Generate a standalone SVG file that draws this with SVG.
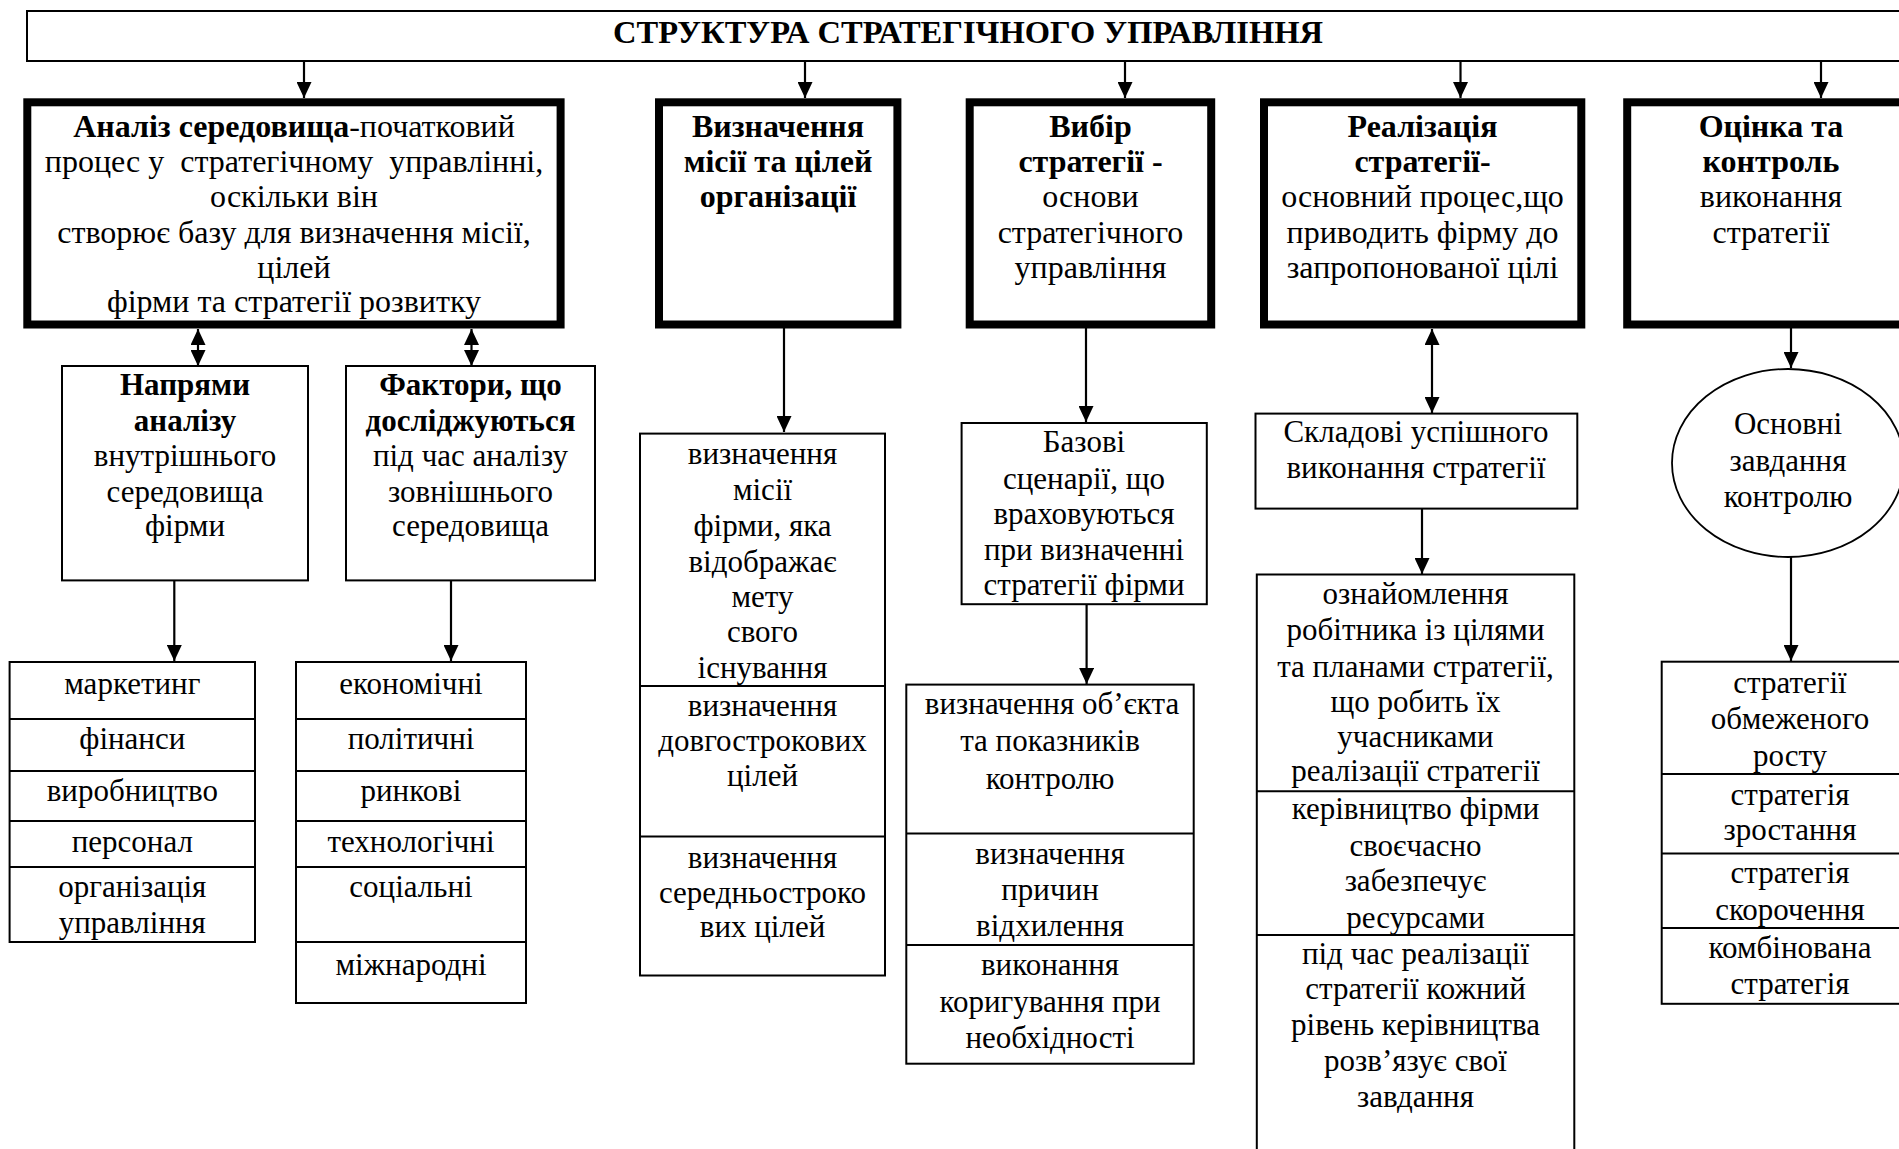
<svg xmlns="http://www.w3.org/2000/svg" width="1899" height="1149" viewBox="0 0 1899 1149">
  <style>
    text { font-family: "Liberation Serif", "Times New Roman", serif; font-size: 31px; fill: #000; text-anchor: middle; }
    .b { font-weight: bold; }
    .top text { font-size: 32px; }
    .thick { fill: #fff; stroke: #000; stroke-width: 8; }
    .thin { fill: #fff; stroke: #000; stroke-width: 2; }
    .sep { stroke: #000; stroke-width: 2; }
    .conn line { stroke: #000; stroke-width: 2.2; }
  </style>
  <defs>
    <marker id="ah" viewBox="0 0 16 15" refX="16" refY="7.5" markerWidth="16" markerHeight="15" markerUnits="userSpaceOnUse" orient="auto-start-reverse">
      <path d="M0,0 L16,7.5 L0,15 z" fill="#000"/>
    </marker>
  </defs>
  <rect width="1899" height="1149" fill="#fff"/>

  <!-- title -->
  <g id="title">
    <rect class="thin" x="27" y="11" width="1900" height="50"/>
    <text class="b" x="968" y="43" style="font-size:32.5px">СТРУКТУРА СТРАТЕГІЧНОГО УПРАВЛІННЯ</text>
  </g>

  <!-- connectors -->
  <g id="connectors" class="conn">
    <line x1="304" y1="61" x2="304" y2="98" marker-end="url(#ah)"/>
    <line x1="805" y1="61" x2="805" y2="98" marker-end="url(#ah)"/>
    <line x1="1125" y1="61" x2="1125" y2="98" marker-end="url(#ah)"/>
    <line x1="1460.5" y1="61" x2="1460.5" y2="98" marker-end="url(#ah)"/>
    <line x1="1821" y1="61" x2="1821" y2="98" marker-end="url(#ah)"/>
    <line x1="198" y1="329" x2="198" y2="366" marker-start="url(#ah)" marker-end="url(#ah)"/>
    <line x1="471.5" y1="329" x2="471.5" y2="366" marker-start="url(#ah)" marker-end="url(#ah)"/>
    <line x1="174.3" y1="580" x2="174.3" y2="661" marker-end="url(#ah)"/>
    <line x1="451" y1="580" x2="451" y2="661" marker-end="url(#ah)"/>
    <line x1="784" y1="328" x2="784" y2="432" marker-end="url(#ah)"/>
    <line x1="1086" y1="328" x2="1086" y2="422" marker-end="url(#ah)"/>
    <line x1="1086.6" y1="604" x2="1086.6" y2="684" marker-end="url(#ah)"/>
    <line x1="1432" y1="329" x2="1432" y2="413" marker-start="url(#ah)" marker-end="url(#ah)"/>
    <line x1="1422" y1="508.6" x2="1422" y2="574" marker-end="url(#ah)"/>
    <line x1="1791" y1="328" x2="1791" y2="368" marker-end="url(#ah)"/>
    <line x1="1791" y1="557" x2="1791" y2="661" marker-end="url(#ah)"/>
  </g>

  <!-- top row: the five stages -->
  <g class="top">
    <g id="analysis">
      <rect class="thick" x="27.3" y="102.3" width="533.3" height="222.2"/>
      <text x="294" y="137"><tspan class="b">Аналіз середовища</tspan>-початковий</text>
      <text x="294" y="172" xml:space="preserve">процес у  стратегічному  управлінні,</text>
      <text x="294" y="207">оскільки він</text>
      <text x="294" y="243">створює базу для визначення місії,</text>
      <text x="294" y="278">цілей</text>
      <text x="294" y="312">фірми та стратегії розвитку</text>
    </g>
    <g id="mission">
      <rect class="thick" x="659" y="102.3" width="238.4" height="222.2"/>
      <text class="b" x="778" y="137">Визначення</text>
      <text class="b" x="778" y="172">місії та цілей</text>
      <text class="b" x="778" y="207">організації</text>
    </g>
    <g id="choice">
      <rect class="thick" x="969.7" y="102.3" width="241.5" height="222.2"/>
      <text class="b" x="1090.5" y="137">Вибір</text>
      <text class="b" x="1090.5" y="172">стратегії -</text>
      <text x="1090.5" y="207">основи</text>
      <text x="1090.5" y="243">стратегічного</text>
      <text x="1090.5" y="278">управління</text>
    </g>
    <g id="implementation">
      <rect class="thick" x="1264" y="102.3" width="317.3" height="222.2"/>
      <text class="b" x="1422.5" y="137">Реалізація</text>
      <text class="b" x="1422.5" y="172">стратегії-</text>
      <text x="1422.5" y="207">основний процес,що</text>
      <text x="1422.5" y="243">приводить фірму до</text>
      <text x="1422.5" y="278">запропонованої цілі</text>
    </g>
    <g id="evaluation">
      <rect class="thick" x="1627.2" y="102.3" width="300" height="222.2"/>
      <text class="b" x="1771" y="137">Оцінка та</text>
      <text class="b" x="1771" y="172">контроль</text>
      <text x="1771" y="207">виконання</text>
      <text x="1771" y="243">стратегії</text>
    </g>
  </g>

  <!-- analysis branch -->
  <g id="internal">
    <rect class="thin" x="62" y="366" width="246" height="214.4"/>
    <text class="b" x="185" y="395">Напрями</text>
    <text class="b" x="185" y="431">аналізу</text>
    <text x="185" y="466">внутрішнього</text>
    <text x="185" y="502">середовища</text>
    <text x="185" y="536">фірми</text>
  </g>
  <g id="external">
    <rect class="thin" x="346" y="366" width="249" height="214.4"/>
    <text class="b" x="470.5" y="395">Фактори, що</text>
    <text class="b" x="470.5" y="431">досліджуються</text>
    <text x="470.5" y="466">під час аналізу</text>
    <text x="470.5" y="502">зовнішнього</text>
    <text x="470.5" y="536">середовища</text>
  </g>
  <g id="internal-list">
    <rect class="thin" x="9.6" y="662" width="245.4" height="280"/>
    <line class="sep" x1="9.6" y1="719" x2="255" y2="719"/>
    <line class="sep" x1="9.6" y1="771" x2="255" y2="771"/>
    <line class="sep" x1="9.6" y1="821" x2="255" y2="821"/>
    <line class="sep" x1="9.6" y1="867" x2="255" y2="867"/>
    <text x="132.3" y="694">маркетинг</text>
    <text x="132.3" y="749">фінанси</text>
    <text x="132.3" y="801">виробництво</text>
    <text x="132.3" y="852">персонал</text>
    <text x="132.3" y="897">організація</text>
    <text x="132.3" y="933">управління</text>
  </g>
  <g id="external-list">
    <rect class="thin" x="296" y="662" width="230" height="341"/>
    <line class="sep" x1="296" y1="719" x2="526" y2="719"/>
    <line class="sep" x1="296" y1="771" x2="526" y2="771"/>
    <line class="sep" x1="296" y1="821" x2="526" y2="821"/>
    <line class="sep" x1="296" y1="867" x2="526" y2="867"/>
    <line class="sep" x1="296" y1="942" x2="526" y2="942"/>
    <text x="411" y="694">економічні</text>
    <text x="411" y="749">політичні</text>
    <text x="411" y="801">ринкові</text>
    <text x="411" y="852">технологічні</text>
    <text x="411" y="897">соціальні</text>
    <text x="411" y="975">міжнародні</text>
  </g>

  <!-- mission branch -->
  <g id="mission-list">
    <rect class="thin" x="640" y="433.6" width="245" height="541.9"/>
    <line class="sep" x1="640" y1="686" x2="885" y2="686"/>
    <line class="sep" x1="640" y1="836.4" x2="885" y2="836.4"/>
    <text x="762.5" y="464">визначення</text>
    <text x="762.5" y="500">місії</text>
    <text x="762.5" y="536">фірми, яка</text>
    <text x="762.5" y="572">відображає</text>
    <text x="762.5" y="607">мету</text>
    <text x="762.5" y="642">свого</text>
    <text x="762.5" y="678">існування</text>
    <text x="762.5" y="716">визначення</text>
    <text x="762.5" y="751">довгострокових</text>
    <text x="762.5" y="786">цілей</text>
    <text x="762.5" y="868">визначення</text>
    <text x="762.5" y="903">середньостроко</text>
    <text x="762.5" y="937">вих цілей</text>
  </g>

  <!-- choice branch -->
  <g id="scenarios">
    <rect class="thin" x="961.6" y="423" width="245.2" height="181.2"/>
    <text x="1084" y="452">Базові</text>
    <text x="1084" y="489">сценарії, що</text>
    <text x="1084" y="524">враховуються</text>
    <text x="1084" y="560">при визначенні</text>
    <text x="1084" y="595">стратегії фірми</text>
  </g>
  <g id="choice-list">
    <rect class="thin" x="906.3" y="684.6" width="287.4" height="379.1"/>
    <line class="sep" x1="906.3" y1="833.5" x2="1193.7" y2="833.5"/>
    <line class="sep" x1="906.3" y1="945" x2="1193.7" y2="945"/>
    <text x="1052" y="714">визначення об’єкта</text>
    <text x="1050" y="751">та показників</text>
    <text x="1050" y="789">контролю</text>
    <text x="1050" y="864">визначення</text>
    <text x="1050" y="900">причин</text>
    <text x="1050" y="936">відхилення</text>
    <text x="1050" y="975">виконання</text>
    <text x="1050" y="1012">коригування при</text>
    <text x="1050" y="1048">необхідності</text>
  </g>

  <!-- implementation branch -->
  <g id="components">
    <rect class="thin" x="1255.5" y="413.6" width="321.8" height="95"/>
    <text x="1416" y="442">Складові успішного</text>
    <text x="1416" y="478">виконання стратегії</text>
  </g>
  <g id="implementation-list">
    <rect class="thin" x="1256.8" y="574.5" width="317.5" height="580"/>
    <line class="sep" x1="1256.8" y1="791.2" x2="1574.3" y2="791.2"/>
    <line class="sep" x1="1256.8" y1="934.9" x2="1574.3" y2="934.9"/>
    <text x="1415.5" y="604">ознайомлення</text>
    <text x="1415.5" y="640">робітника із цілями</text>
    <text x="1415.5" y="677">та планами стратегії,</text>
    <text x="1415.5" y="712">що робить їх</text>
    <text x="1415.5" y="747">учасниками</text>
    <text x="1415.5" y="781">реалізації стратегії</text>
    <text x="1415.5" y="819">керівництво фірми</text>
    <text x="1415.5" y="856">своєчасно</text>
    <text x="1415.5" y="891">забезпечує</text>
    <text x="1415.5" y="928">ресурсами</text>
    <text x="1415.5" y="964">під час реалізації</text>
    <text x="1415.5" y="999">стратегії кожний</text>
    <text x="1415.5" y="1035">рівень керівництва</text>
    <text x="1415.5" y="1071">розв’язує свої</text>
    <text x="1415.5" y="1107">завдання</text>
  </g>

  <!-- evaluation branch -->
  <g id="control-tasks">
    <ellipse cx="1788" cy="463" rx="116" ry="94" fill="#fff" stroke="#000" stroke-width="1.8"/>
    <text x="1788" y="434">Основні</text>
    <text x="1788" y="471">завдання</text>
    <text x="1788" y="507">контролю</text>
  </g>
  <g id="strategy-list">
    <rect class="thin" x="1661.7" y="661.7" width="260" height="342.1"/>
    <line class="sep" x1="1661.7" y1="774" x2="1925" y2="774"/>
    <line class="sep" x1="1661.7" y1="853.4" x2="1925" y2="853.4"/>
    <line class="sep" x1="1661.7" y1="928" x2="1925" y2="928"/>
    <text x="1790" y="693">стратегії</text>
    <text x="1790" y="729">обмеженого</text>
    <text x="1790" y="766">росту</text>
    <text x="1790" y="805">стратегія</text>
    <text x="1790" y="840">зростання</text>
    <text x="1790" y="883">стратегія</text>
    <text x="1790" y="920">скорочення</text>
    <text x="1790" y="958">комбінована</text>
    <text x="1790" y="994">стратегія</text>
  </g>
</svg>
